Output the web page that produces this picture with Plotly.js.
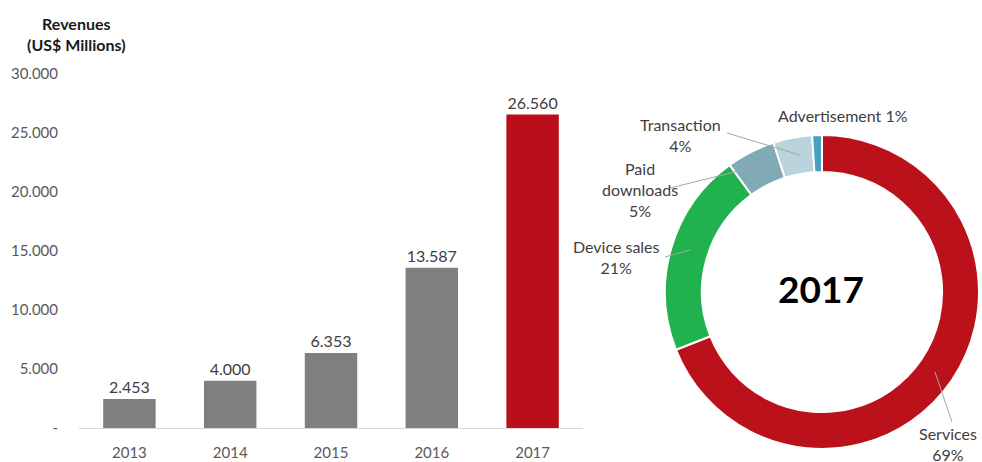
<!DOCTYPE html>
<html>
<head>
<meta charset="utf-8">
<script src="https://cdn.plot.ly/plotly-3.0.1.min.js"></script>
<style>html,body{margin:0;padding:0;background:#fff;}#chart{width:982px;height:462px;}</style>
</head>
<body>
<div id="chart"></div>
<script>
// ---- data ----
var years = ['2013', '2014', '2015', '2016', '2017'];
var revenues = [2453, 4000, 6353, 13587, 26560];
var yTickVals = [0, 5000, 10000, 15000, 20000, 25000, 30000];
var yTickText = ['-', '5.000', '10.000', '15.000', '20.000', '25.000', '30.000'];
var segLabels = ['Services', 'Device sales', 'Paid downloads', 'Transaction', 'Advertisement'];
var segShares = [69, 21, 5, 4, 1];
var segText = ['Services<br>69%', 'Device sales<br>21%', 'Paid<br>downloads<br>5%', 'Transaction<br>4%', 'Advertisement 1%'];

var FONT = 'Lato, "Open Sans", sans-serif';
var W = 982, H = 462;
function px(x){ return x / W; }
function py(y){ return 1 - y / H; }

var barColors = years.map(function(y, i){ return i === years.length - 1 ? '#BA0F1A' : '#7F7F7F'; });

var bar = {
  type: 'bar', x: years, y: revenues,
  marker: {color: barColors},
  width: 0.52,
  text: revenues, texttemplate: '%{y:,}', textposition: 'outside',
  textfont: {family: FONT, size: 16, color: '#404040'},
  cliponaxis: false, hoverinfo: 'none',
  xaxis: 'x', yaxis: 'y'
};

var pie = {
  type: 'pie', labels: segLabels, values: segShares,
  hole: 0.765, sort: false, direction: 'clockwise', rotation: 0,
  marker: {colors: ['#BA111B', '#21B14F', '#7FAAB6', '#B9D4DC', '#4A9FC0'], line: {color: '#FFFFFF', width: 2}},
  textinfo: 'none', hoverinfo: 'none', showlegend: false,
  domain: {x: [px(665), px(979)], y: [py(449), py(135)]}
};

// label positions (px) and leader lines
var labelPos = [[948, 444], [616, 257], [640, 190], [680, 135], [843, 115]];
var leaders = [
  [[952, 422], [935, 372]],
  [[665, 257], [690, 250]],
  [[670, 188], [763, 165]],
  [[727, 133], [800, 155]],
  null
];

var annotations = segText.map(function(t, i){
  return {text: t, x: px(labelPos[i][0]), y: py(labelPos[i][1]), xref: 'paper', yref: 'paper',
    showarrow: false, xanchor: 'center', yanchor: 'middle', align: 'center',
    font: {family: FONT, size: 16, color: '#404040'}};
});
annotations.push({text: '<b>2017</b>', x: px(821), y: py(288), xref: 'paper', yref: 'paper',
  xanchor: 'center', yanchor: 'middle',
  showarrow: false, font: {family: FONT, size: 37, color: '#000000'}});
annotations.push({text: '<b>Revenues<br>(US$ Millions)</b>', x: px(76), y: py(34), xref: 'paper', yref: 'paper',
  xanchor: 'center', yanchor: 'middle',
  showarrow: false, align: 'center', font: {family: FONT, size: 16, color: '#1A1A1A'}});

var shapes = [];
leaders.forEach(function(l){
  if (!l) return;
  shapes.push({type: 'line', xref: 'paper', yref: 'paper', x0: px(l[0][0]), y0: py(l[0][1]), x1: px(l[1][0]), y1: py(l[1][1]),
    line: {color: '#A6A6A6', width: 1}});
});

var layout = {
  width: W, height: H,
  margin: {l: 0, r: 0, t: 0, b: 0},
  paper_bgcolor: '#FFFFFF', plot_bgcolor: '#FFFFFF',
  separators: ',.',
  showlegend: false,
  xaxis: {domain: [px(79), px(583)], showline: true, linecolor: '#D9D9D9', linewidth: 1,
    ticks: 'outside', ticklen: 11, tickcolor: 'rgba(0,0,0,0)', showgrid: false, zeroline: false,
    tickfont: {family: FONT, size: 15, color: '#595959'}, fixedrange: true},
  yaxis: {domain: [py(428), py(74)], range: [0, 30000], tickvals: yTickVals, ticktext: yTickText,
    ticks: 'outside', ticklen: 17, tickcolor: 'rgba(0,0,0,0)', showgrid: false, zeroline: false, showline: false,
    tickfont: {family: FONT, size: 15, color: '#595959'}, fixedrange: true},
  annotations: annotations,
  shapes: shapes
};

Plotly.newPlot('chart', [bar, pie], layout, {staticPlot: true, displayModeBar: false});
</script>
</body>
</html>
